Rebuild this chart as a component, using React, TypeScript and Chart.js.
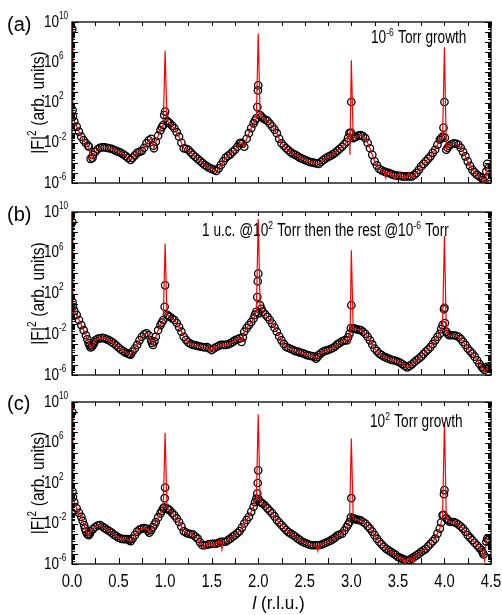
import React, { useEffect, useRef } from "react";
import { Chart, registerables } from "chart.js";

Chart.register(...registerables);

const FONT = "'Liberation Sans', Arimo, Arial, sans-serif";

// ---- axes ----
const X_TICK_VALUES = [0, 0.5, 1, 1.5, 2, 2.5, 3, 3.5, 4, 4.5];
const X_TICK_LABELS = ["0.0", "0.5", "1.0", "1.5", "2.0", "2.5", "3.0", "3.5", "4.0", "4.5"];
const X_MINOR_TICKS = [0.25, 0.75, 1.25, 1.75, 2.25, 2.75, 3.25, 3.75, 4.25];
const Y_LABEL_EXPONENTS = [10, 6, 2, -2, -6];
const Y_MIN = 1e-6;
const Y_MAX = 1e10;
const PEAK_L = [0, 1, 2, 3, 4];

// ---- panel (a): 10^-6 Torr growth (values are log10 |F|^2) ----
const A_L = [0.01, 0.05, 0.1, 0.15, 0.18, 0.2, 0.22, 0.25, 0.3, 0.35, 0.4, 0.45, 0.5, 0.55, 0.6, 0.63, 0.65, 0.7, 0.75, 0.8, 0.85, 0.88, 0.9, 0.95, 0.98, 1.02, 1.05, 1.1, 1.15, 1.2, 1.25, 1.3, 1.35, 1.4, 1.45, 1.5, 1.55, 1.6, 1.65, 1.7, 1.75, 1.8, 1.83, 1.85, 1.9, 1.95, 1.98, 2.02, 2.05, 2.1, 2.15, 2.2, 2.25, 2.3, 2.35, 2.4, 2.45, 2.5, 2.55, 2.6, 2.65, 2.7, 2.75, 2.8, 2.85, 2.9, 2.95, 2.98, 3.02, 3.05, 3.1, 3.15, 3.2, 3.25, 3.3, 3.35, 3.4, 3.45, 3.5, 3.55, 3.6, 3.65, 3.7, 3.75, 3.8, 3.85, 3.9, 3.95, 3.98, 4.02, 4.05, 4.1, 4.15, 4.2, 4.25, 4.3, 4.35, 4.4, 4.43, 4.45];
const A_F = [0.6, -0.4, -1.4, -2.05, -2.4, -3.6, -3.5, -2.9, -2.5, -2.45, -2.55, -2.7, -2.9, -3.15, -3.5, -3.7, -3.5, -3.0, -2.8, -2.05, -1.6, -2.55, -1.9, -0.75, -0.25, 0.17, -0.07, -0.56, -1.4, -2.55, -2.7, -3.2, -3.6, -4.0, -4.35, -4.6, -4.8, -4.2, -3.5, -3.15, -2.7, -2.05, -2.1, -2.4, -1.05, -0.07, 0.43, 0.76, 0.43, 0.17, -0.4, -1.05, -2.05, -2.55, -2.95, -3.2, -3.5, -3.7, -3.9, -4.0, -4.1, -3.7, -3.4, -3.15, -2.8, -2.4, -1.9, -1.05, -1.55, -1.4, -1.25, -1.55, -2.55, -3.85, -4.6, -4.85, -5.0, -5.2, -5.3, -5.35, -5.35, -5.35, -5.0, -4.35, -3.85, -3.35, -2.7, -1.7, -1.4, -2.7, -2.3, -2.05, -2.2, -2.9, -3.85, -4.7, -5.2, -5.5, -5.85, -4.85];
const A_MID_L = [0.025, 0.075, 0.125, 0.175, 0.225, 0.275, 0.325, 0.375, 0.425, 0.475, 0.525, 0.575, 0.675, 0.725, 0.775, 0.825, 0.875, 0.925, 0.965, 1.035, 1.075, 1.125, 1.175, 1.225, 1.275, 1.325, 1.375, 1.425, 1.475, 1.525, 1.575, 1.625, 1.675, 1.725, 1.775, 1.815, 1.875, 1.925, 1.965, 2.035, 2.075, 2.125, 2.175, 2.225, 2.275, 2.325, 2.375, 2.425, 2.475, 2.525, 2.575, 2.625, 2.675, 2.725, 2.775, 2.825, 2.875, 2.925, 2.965, 3.035, 3.075, 3.125, 3.175, 3.225, 3.275, 3.325, 3.375, 3.425, 3.475, 3.525, 3.575, 3.625, 3.675, 3.725, 3.775, 3.825, 3.875, 3.925, 3.965, 4.035, 4.075, 4.125, 4.175, 4.225, 4.275, 4.325, 4.375, 4.415, 4.475];
const A_MID_F = [0.1, -0.9, -1.75, -2.3, -3.2, -2.65, -2.45, -2.5, -2.6, -2.8, -3.0, -3.3, -3.25, -2.9, -2.5, -1.75, -2.3, -1.3, -0.45, 0.05, -0.3, -0.95, -2.0, -2.6, -2.95, -3.4, -3.8, -4.2, -4.5, -4.7, -4.55, -3.85, -3.3, -2.9, -2.4, -2.0, -1.6, -0.55, 0.2, 0.6, 0.3, -0.1, -0.7, -1.6, -2.3, -2.75, -3.1, -3.35, -3.6, -3.8, -3.95, -4.05, -3.9, -3.55, -3.3, -3.0, -2.6, -2.15, -1.5, -1.45, -1.3, -1.35, -2.0, -3.2, -4.25, -4.75, -4.95, -5.1, -5.25, -5.3, -5.35, -5.35, -5.2, -4.7, -4.1, -3.6, -3.0, -2.2, -1.55, -2.5, -2.15, -2.1, -2.5, -3.35, -4.3, -4.95, -5.35, -5.7, -4.5];
const A_EXTRA_L = [0.003, 0.006, 0.99, 1.0, 1.99, 1.997, 2.0, 2.995, 3.0, 3.99, 4.0, 4.005, 4.46];
const A_EXTRA_F = [9.3, 1.25, 0.75, 1.1, 1.55, 3.2, 3.7, -1.0, 2.05, -0.5, 2.05, -1.5, -4.1];
const A_SPIKE = [10.5, 7.15, 8.85, 6.2, 7.5];
const A_RED_L = [2.985, 3.37, 3.42, 3.47, 3.52, 3.57, 3.62, 3.67, 4.42, 4.44, 4.47];
const A_RED_F = [-3.2, -5.5, -4.9, -5.6, -5.0, -5.6, -5.0, -5.5, -5.9, -6.3, -4.2];

// ---- panel (b): 1 u.c. @10^2 Torr then the rest @10^-6 Torr ----
const B_L = [0.01, 0.05, 0.1, 0.15, 0.18, 0.2, 0.23, 0.25, 0.3, 0.35, 0.4, 0.45, 0.5, 0.55, 0.6, 0.63, 0.65, 0.7, 0.75, 0.8, 0.85, 0.87, 0.9, 0.95, 0.98, 1.02, 1.05, 1.1, 1.15, 1.2, 1.25, 1.3, 1.35, 1.4, 1.45, 1.5, 1.55, 1.6, 1.65, 1.7, 1.75, 1.8, 1.82, 1.85, 1.9, 1.95, 1.98, 2.02, 2.05, 2.1, 2.15, 2.2, 2.25, 2.3, 2.35, 2.4, 2.45, 2.5, 2.55, 2.6, 2.62, 2.65, 2.7, 2.75, 2.8, 2.85, 2.9, 2.95, 2.98, 3.02, 3.05, 3.1, 3.15, 3.2, 3.25, 3.3, 3.35, 3.4, 3.45, 3.5, 3.55, 3.6, 3.65, 3.7, 3.75, 3.8, 3.85, 3.9, 3.95, 3.98, 4.02, 4.05, 4.1, 4.15, 4.2, 4.25, 4.3, 4.35, 4.4, 4.43, 4.46];
const B_F = [0.7, -0.1, -1.1, -2.1, -2.9, -3.3, -3.0, -2.6, -2.4, -2.4, -2.6, -2.9, -3.3, -3.65, -3.9, -4.0, -3.7, -3.05, -2.25, -1.9, -2.6, -3.05, -2.25, -1.1, -0.6, -0.1, -0.3, -0.6, -1.3, -2.25, -2.8, -3.05, -3.15, -3.25, -3.25, -3.55, -3.25, -3.05, -3.05, -2.9, -2.6, -2.4, -2.75, -1.75, -1.1, -0.45, 0.2, 0.85, 0.2, -0.3, -0.95, -1.75, -2.6, -3.25, -3.45, -3.65, -3.8, -3.95, -4.1, -4.2, -4.4, -4.05, -3.7, -3.55, -3.35, -3.0, -2.7, -2.6, -1.95, -1.45, -1.5, -1.6, -1.95, -2.6, -3.4, -3.9, -4.2, -4.4, -4.55, -4.7, -4.95, -5.25, -4.95, -4.55, -4.2, -3.7, -3.25, -2.6, -1.95, -1.1, -1.75, -2.1, -2.1, -2.25, -2.75, -3.4, -3.9, -4.55, -5.2, -5.5, -5.2];
const B_MID_L = [0.025, 0.075, 0.125, 0.165, 0.19, 0.215, 0.24, 0.275, 0.325, 0.375, 0.425, 0.475, 0.525, 0.575, 0.615, 0.675, 0.725, 0.775, 0.825, 0.86, 0.885, 0.925, 0.965, 1.035, 1.075, 1.125, 1.175, 1.225, 1.275, 1.325, 1.375, 1.425, 1.475, 1.525, 1.575, 1.625, 1.675, 1.725, 1.775, 1.835, 1.875, 1.925, 1.965, 2.035, 2.075, 2.125, 2.175, 2.225, 2.275, 2.325, 2.375, 2.425, 2.475, 2.525, 2.575, 2.635, 2.675, 2.725, 2.775, 2.825, 2.875, 2.925, 2.965, 3.035, 3.075, 3.125, 3.175, 3.225, 3.275, 3.325, 3.375, 3.425, 3.475, 3.525, 3.575, 3.625, 3.675, 3.725, 3.775, 3.825, 3.875, 3.925, 3.965, 4.035, 4.075, 4.125, 4.175, 4.225, 4.275, 4.325, 4.375, 4.415, 4.475];
const B_MID_F = [0.3, -0.6, -1.6, -2.5, -3.1, -3.2, -2.8, -2.45, -2.35, -2.5, -2.75, -3.1, -3.5, -3.8, -3.95, -3.4, -2.6, -2.0, -2.1, -2.85, -2.7, -1.6, -0.85, -0.2, -0.45, -0.9, -1.75, -2.55, -2.95, -3.1, -3.2, -3.3, -3.4, -3.4, -3.15, -3.05, -3.0, -2.75, -2.5, -2.3, -1.4, -0.8, -0.1, 0.5, -0.05, -0.6, -1.35, -2.2, -2.95, -3.35, -3.55, -3.7, -3.85, -4.05, -4.15, -4.25, -3.85, -3.6, -3.45, -3.2, -2.85, -2.6, -2.3, -1.45, -1.55, -1.75, -2.25, -3.0, -3.65, -4.05, -4.3, -4.5, -4.6, -4.8, -5.1, -5.1, -4.75, -4.4, -3.95, -3.5, -2.95, -2.25, -1.5, -1.95, -2.1, -2.15, -2.45, -3.05, -3.65, -4.2, -4.9, -5.35, -5.3];
const B_EXTRA_L = [0.003, 0.006, 0.995, 1.0, 1.99, 1.995, 2.0, 2.003, 2.995, 3.0, 3.995, 4.0, 4.005];
const B_EXTRA_F = [9.0, 1.15, 0.7, 2.8, 1.65, 3.2, 3.95, 0.05, -1.4, 0.85, 0.45, 0.6, -0.9];
const B_SPIKE = [10.5, 6.9, 9.3, 6.25, 7.65];
const B_RED_L = [1.47, 1.52, 2.985, 4.44];
const B_RED_F = [-3.6, -3.2, -2.9, -5.7];

// ---- panel (c): 10^2 Torr growth ----
const C_L = [0.01, 0.05, 0.1, 0.13, 0.15, 0.18, 0.2, 0.25, 0.3, 0.35, 0.4, 0.45, 0.5, 0.55, 0.6, 0.63, 0.65, 0.7, 0.75, 0.8, 0.83, 0.87, 0.9, 0.95, 0.98, 1.02, 1.05, 1.1, 1.15, 1.2, 1.25, 1.3, 1.35, 1.4, 1.45, 1.5, 1.55, 1.6, 1.65, 1.7, 1.75, 1.8, 1.85, 1.9, 1.95, 1.98, 2.02, 2.05, 2.1, 2.15, 2.2, 2.25, 2.3, 2.35, 2.4, 2.45, 2.5, 2.55, 2.6, 2.65, 2.7, 2.75, 2.8, 2.85, 2.9, 2.95, 2.98, 3.02, 3.05, 3.1, 3.15, 3.2, 3.25, 3.3, 3.35, 3.4, 3.45, 3.5, 3.55, 3.6, 3.65, 3.7, 3.75, 3.8, 3.85, 3.9, 3.95, 3.98, 4.02, 4.05, 4.1, 4.15, 4.2, 4.25, 4.3, 4.35, 4.4, 4.42, 4.45];
const C_F = [0.6, -0.5, -1.35, -2.15, -2.8, -3.15, -2.8, -2.35, -2.15, -2.45, -2.75, -3.1, -3.4, -3.55, -3.55, -3.75, -3.5, -2.8, -2.5, -2.5, -2.9, -2.35, -1.85, -1.0, -0.5, -0.5, -0.7, -1.2, -1.85, -2.75, -3.0, -3.1, -3.5, -4.15, -4.1, -4.0, -4.0, -3.8, -3.8, -3.5, -3.15, -2.75, -2.0, -1.35, -0.35, 0.45, 0.15, -0.05, -0.5, -1.0, -1.65, -2.15, -2.65, -3.0, -3.3, -3.65, -3.9, -4.1, -4.15, -4.15, -4.0, -3.8, -3.55, -3.2, -3.0, -2.35, -1.85, -1.5, -1.6, -1.7, -2.0, -2.5, -3.15, -3.8, -4.3, -4.65, -4.95, -5.3, -5.5, -5.7, -5.45, -5.15, -4.8, -4.5, -4.0, -3.5, -2.5, -1.2, -1.5, -1.8, -1.85, -2.1, -2.5, -3.15, -3.65, -4.15, -4.65, -5.05, -3.8];
const C_MID_L = [0.025, 0.075, 0.115, 0.14, 0.165, 0.19, 0.225, 0.275, 0.325, 0.375, 0.425, 0.475, 0.525, 0.575, 0.615, 0.675, 0.725, 0.775, 0.815, 0.85, 0.885, 0.925, 0.965, 1.035, 1.075, 1.125, 1.175, 1.225, 1.275, 1.325, 1.375, 1.425, 1.475, 1.525, 1.575, 1.625, 1.675, 1.725, 1.775, 1.825, 1.875, 1.925, 1.965, 2.035, 2.075, 2.125, 2.175, 2.225, 2.275, 2.325, 2.375, 2.425, 2.475, 2.525, 2.575, 2.625, 2.675, 2.725, 2.775, 2.825, 2.875, 2.925, 2.965, 3.035, 3.075, 3.125, 3.175, 3.225, 3.275, 3.325, 3.375, 3.425, 3.475, 3.525, 3.575, 3.625, 3.675, 3.725, 3.775, 3.825, 3.875, 3.925, 3.965, 4.035, 4.075, 4.125, 4.175, 4.225, 4.275, 4.325, 4.375, 4.41, 4.475];
const C_MID_F = [0.1, -0.95, -1.75, -2.5, -3.05, -3.0, -2.55, -2.2, -2.3, -2.6, -2.9, -3.25, -3.5, -3.55, -3.65, -3.15, -2.6, -2.45, -2.7, -2.65, -2.1, -1.4, -0.75, -0.6, -0.95, -1.5, -2.3, -2.9, -3.05, -3.3, -3.85, -4.15, -4.05, -4.0, -3.9, -3.8, -3.65, -3.3, -2.95, -2.4, -1.65, -0.85, 0.1, 0.05, -0.25, -0.75, -1.3, -1.9, -2.4, -2.85, -3.15, -3.5, -3.8, -4.0, -4.15, -4.15, -4.1, -3.9, -3.7, -3.4, -3.1, -2.7, -2.1, -1.55, -1.65, -1.85, -2.25, -2.8, -3.5, -4.05, -4.5, -4.8, -5.1, -5.4, -5.6, -5.6, -5.3, -5.0, -4.65, -4.25, -3.75, -3.0, -1.9, -1.65, -1.85, -1.95, -2.3, -2.8, -3.4, -3.9, -4.4, -4.85, -3.6];
const C_EXTRA_L = [0.003, 0.006, 0.99, 0.995, 1.0, 1.99, 1.995, 2.0, 2.003, 2.995, 3.0, 3.99, 3.995, 4.0, 4.46];
const C_EXTRA_F = [9.0, 1.15, -0.4, 0.5, 1.55, 0.95, 2.0, 3.25, 0.4, -1.4, 0.5, -1.15, 0.9, 1.3, -3.5];
const C_SPIKE = [10.5, 6.95, 8.8, 6.4, 8.0];
const C_RED_L = [1.42, 1.47, 1.52, 1.57, 1.61, 1.63, 2.64, 3.57, 3.62, 3.67, 4.43, 4.46];
const C_RED_F = [-4.5, -3.8, -4.3, -3.7, -4.55, -3.8, -4.7, -6.0, -5.4, -5.9, -5.6, -3.5];

type Seg = [string, boolean];

interface PanelCfg {
  label: string;
  bandL: number[];
  bandF: number[];
  midL: number[];
  midF: number[];
  extraL: number[];
  extraF: number[];
  spikes: number[];
  redL: number[];
  redF: number[];
  note: Seg[];
  noteX: number;
  noteY: number;
  top: number;
  height: number;
  padTop: number;
  padBottom: number;
  labelY: number;
  showX: boolean;
}

const PANELS: PanelCfg[] = [
  {
    label: "(a)", bandL: A_L, bandF: A_F, midL: A_MID_L, midF: A_MID_F, extraL: A_EXTRA_L, extraF: A_EXTRA_F,
    spikes: A_SPIKE, redL: A_RED_L, redF: A_RED_F,
    note: [["10", false], ["-6", true], [" Torr growth", false]], noteX: 371, noteY: 43,
    top: 0, height: 197, padTop: 22, padBottom: 14, labelY: 31, showX: false,
  },
  {
    label: "(b)", bandL: B_L, bandF: B_F, midL: B_MID_L, midF: B_MID_F, extraL: B_EXTRA_L, extraF: B_EXTRA_F,
    spikes: B_SPIKE, redL: B_RED_L, redF: B_RED_F,
    note: [["1 u.c. @10", false], ["2", true], [" Torr then the rest @10", false], ["-6", true], [" Torr", false]],
    noteX: 202, noteY: 39,
    top: 197, height: 193, padTop: 15, padBottom: 15, labelY: 24, showX: false,
  },
  {
    label: "(c)", bandL: C_L, bandF: C_F, midL: C_MID_L, midF: C_MID_F, extraL: C_EXTRA_L, extraF: C_EXTRA_F,
    spikes: C_SPIKE, redL: C_RED_L, redF: C_RED_F,
    note: [["10", false], ["2", true], [" Torr growth", false]], noteX: 370, noteY: 37,
    top: 390, height: 225, padTop: 12, padBottom: 51, labelY: 20, showX: true,
  },
];

function drawText(ctx: CanvasRenderingContext2D, t: string, x: number, y: number, font: string, sx: number) {
  ctx.font = font;
  const w = ctx.measureText(t).width * sx;
  ctx.save();
  ctx.translate(x, y);
  ctx.scale(sx, 1);
  ctx.fillText(t, 0, 0);
  ctx.restore();
  return w;
}

function segsWidth(ctx: CanvasRenderingContext2D, segs: Seg[], size: number, supSize: number, sx: number) {
  let w = 0;
  for (const [t, sup] of segs) {
    ctx.font = `${sup ? supSize : size}px ${FONT}`;
    w += ctx.measureText(t).width * sx + (sup ? 0.5 : 0);
  }
  return w;
}

function drawSegs(ctx: CanvasRenderingContext2D, segs: Seg[], x: number, y: number, size: number, supSize: number, rise: number, sx: number) {
  let cx = x;
  for (const [t, sup] of segs) {
    cx += drawText(ctx, t, cx, sup ? y - rise : y, `${sup ? supSize : size}px ${FONT}`, sx) + (sup ? 0.5 : 0);
  }
  return cx - x;
}

function Panel({ cfg }: { cfg: PanelCfg }) {
  const ref = useRef<HTMLCanvasElement | null>(null);

  useEffect(() => {
    const canvas = ref.current;
    if (!canvas) return;
    const pts = (ls: number[], fs: number[]) => ls.map((l, i) => ({ x: l, y: Math.pow(10, fs[i]) }));
    const band = pts(cfg.bandL, cfg.bandF).concat(pts(cfg.midL, cfg.midF));
    const circles = band.concat(pts(cfg.extraL, cfg.extraF)).sort((a, b) => a.x - b.x);
    const red = band
      .concat(pts(PEAK_L, cfg.spikes))
      .concat(pts(cfg.redL, cfg.redF))
      .sort((a, b) => a.x - b.x);

    const decor = {
      id: "decor",
      afterDatasetsDraw(chart: any) {
        const ctx: CanvasRenderingContext2D = chart.ctx;
        const area = chart.chartArea;
        const xs = chart.scales.x;
        const ys = chart.scales.y;
        ctx.save();
        ctx.strokeStyle = "#000";
        ctx.fillStyle = "#000";
        // frame
        ctx.lineWidth = 1.3;
        ctx.strokeRect(area.left, area.top, area.right - area.left, area.bottom - area.top);
        // x ticks (inward)
        ctx.lineWidth = 1;
        const xt = X_TICK_VALUES.concat(X_MINOR_TICKS);
        ctx.beginPath();
        for (const v of xt) {
          const px = Math.round(xs.getPixelForValue(v)) + 0.5;
          ctx.moveTo(px, area.bottom);
          ctx.lineTo(px, area.bottom - 6);
          ctx.moveTo(px, area.top);
          ctx.lineTo(px, area.top + 4);
        }
        // y ticks (inward), decades and minors
        for (let e = -6; e <= 10; e++) {
          const py = Math.round(ys.getPixelForValue(Math.pow(10, e))) + 0.5;
          ctx.moveTo(area.left, py);
          ctx.lineTo(area.left + 6, py);
          ctx.moveTo(area.right, py);
          ctx.lineTo(area.right - 6, py);
          if (e < 10) {
            for (let m = 2; m <= 9; m++) {
              const pm = Math.round(ys.getPixelForValue(m * Math.pow(10, e))) + 0.5;
              ctx.moveTo(area.left, pm);
              ctx.lineTo(area.left + 3, pm);
              ctx.moveTo(area.right, pm);
              ctx.lineTo(area.right - 3, pm);
            }
          }
        }
        ctx.stroke();

        // y tick labels
        ctx.textBaseline = "middle";
        ctx.textAlign = "left";
        for (const e of Y_LABEL_EXPONENTS) {
          const py = ys.getPixelForValue(Math.pow(10, e));
          drawSegs(ctx, [["10", false], [String(e), true]], 44, py, 16.5, 10, 6, 0.82);
        }

        // y axis title (rotated)
        ctx.textBaseline = "alphabetic";
        const cy = (area.top + area.bottom) / 2;
        const titleSegs: Seg[] = [["|F|", false], ["2", true], [" (arb. units)", false]];
        const tw = segsWidth(ctx, titleSegs, 19, 12, 0.82);
        ctx.save();
        ctx.translate(44, cy);
        ctx.rotate(-Math.PI / 2);
        drawSegs(ctx, titleSegs, -tw / 2, 0, 19, 12, 8, 0.82);
        ctx.restore();

        // panel label
        drawText(ctx, cfg.label, 7, cfg.labelY, `20px ${FONT}`, 1);

        // annotation
        drawSegs(ctx, cfg.note, cfg.noteX, cfg.noteY, 17.5, 11, 7, 0.78);

        if (cfg.showX) {
          X_TICK_VALUES.forEach((v, i) => {
            ctx.font = `18px ${FONT}`;
            const w = ctx.measureText(X_TICK_LABELS[i]).width * 0.82;
            drawText(ctx, X_TICK_LABELS[i], xs.getPixelForValue(v) - w / 2, area.bottom + 23, `18px ${FONT}`, 0.82);
          });
          // x title: italic l + (r.l.u.)
          ctx.font = `italic 18px ${FONT}`;
          const w1 = ctx.measureText("l").width;
          ctx.font = `18px ${FONT}`;
          const w2 = ctx.measureText(" (r.l.u.)").width * 0.95;
          const x0 = (area.left + area.right) / 2 - (w1 + w2) / 2 - 3;
          drawText(ctx, "l", x0, area.bottom + 45, `italic 18px ${FONT}`, 1);
          drawText(ctx, " (r.l.u.)", x0 + w1, area.bottom + 45, `18px ${FONT}`, 0.95);
        }
        ctx.restore();
      },
    };

    const chart = new Chart(canvas, {
      type: "scatter",
      data: {
        datasets: [
          {
            label: "fit",
            data: red,
            showLine: true,
            borderColor: "#ff0000",
            borderWidth: 1.2,
            pointRadius: 0,
            pointHoverRadius: 0,
            order: 0,
          },
          {
            label: "data",
            data: circles,
            showLine: false,
            borderColor: "#000000",
            backgroundColor: "rgba(255,255,255,0)",
            borderWidth: 1.3,
            pointRadius: 3.7,
            pointHoverRadius: 3.7,
            order: 1,
          },
        ],
      },
      options: {
        animation: false,
        responsive: false,
        maintainAspectRatio: false,
        devicePixelRatio: 1,
        layout: { padding: { left: 72, right: 11, top: cfg.padTop, bottom: cfg.padBottom }, autoPadding: false },
        plugins: { legend: { display: false }, tooltip: { enabled: false } },
        events: [],
        scales: {
          x: { type: "linear", min: 0, max: 4.5, display: false },
          y: { type: "logarithmic", min: Y_MIN, max: Y_MAX, display: false },
        },
      },
      plugins: [decor],
    } as any);
    return () => chart.destroy();
  }, [cfg]);

  return (
    <canvas
      ref={ref}
      width={502}
      height={cfg.height}
      style={{ position: "absolute", left: 0, top: cfg.top, width: 502, height: cfg.height, display: "block" }}
    />
  );
}

export default function App() {
  return (
    <div style={{ position: "absolute", left: 0, top: 0, width: 502, height: 615, background: "#fff" }}>
      {PANELS.map((p) => (
        <Panel key={p.label} cfg={p} />
      ))}
    </div>
  );
}
